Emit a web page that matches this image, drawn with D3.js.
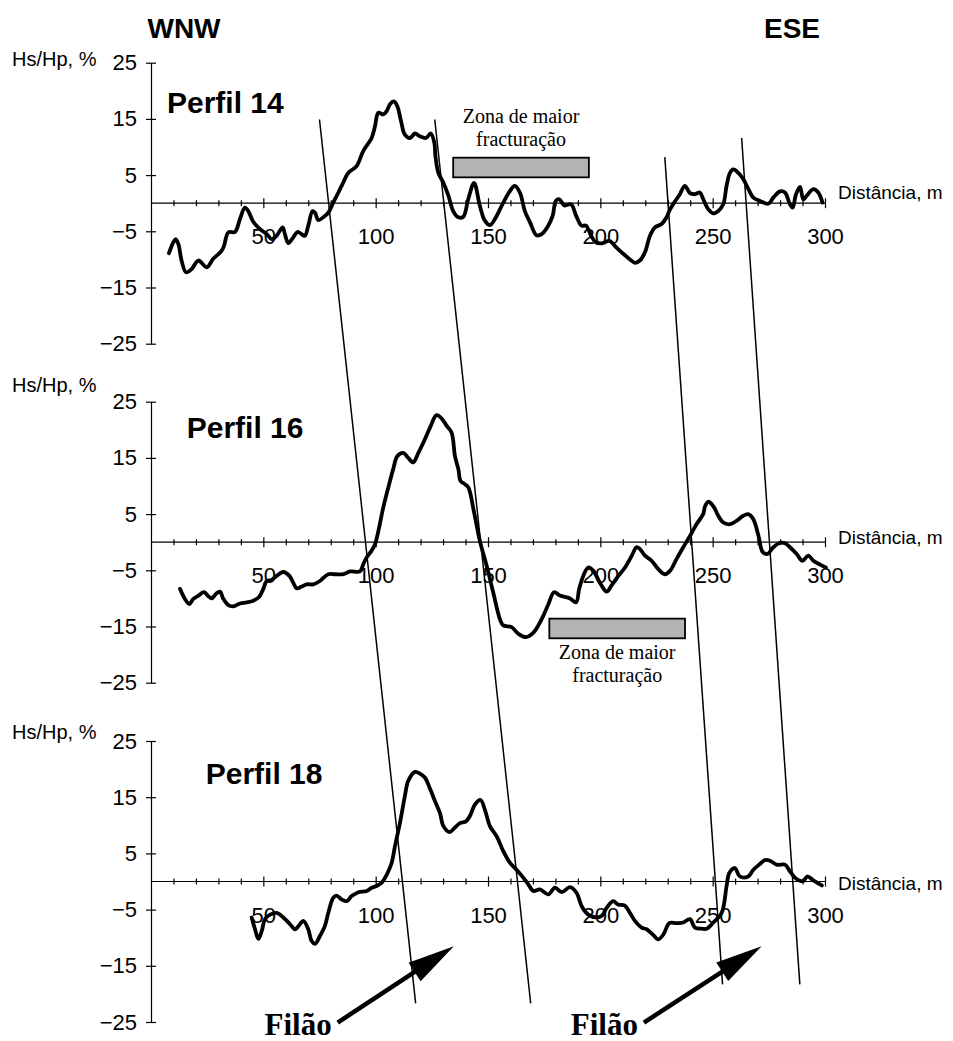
<!DOCTYPE html>
<html><head><meta charset="utf-8">
<script src="https://cdn.jsdelivr.net/npm/d3@7"></script>
<style>html,body{margin:0;padding:0;background:#fff;}svg{display:block;}</style>
</head><body>
<div id="chart"></div>
<script>
// ---------- DATA ----------
const profileNames = ["Perfil 14", "Perfil 16", "Perfil 18"];
const xTickValues = [50, 100, 150, 200, 250, 300];
const yTickValues = [25, 15, 5, -5, -15, -25];
const yAxisLabel = "Hs/Hp, %";
const xAxisLabel = "Distância, m";

const dist14 = [8.0, 9.9, 11, 12.2, 13.6, 15.6, 18.1, 21.1, 24.8, 27.7, 31.4, 32.5, 34.4, 37.4, 39.6, 41.8, 43.3, 45.5, 48.5, 51.5, 53.7, 55.9, 58.6, 59.6, 61.1, 63.3, 65.3, 67, 68.5, 70, 71.9, 73, 74.5, 76.7, 78.9, 81.1, 83.4, 85.6, 87.8, 91.5, 94.5, 98.2, 99.7, 101.2, 103.4, 104.9, 106.4, 108.1, 109.6, 111.3, 113, 115.3, 117.5, 119.7, 122.4, 124.5, 126.1, 126.6, 127.9, 130.1, 132.4, 134.5, 136.8, 139, 141.2, 143.8, 146.4, 148.6, 150.9, 153.1, 156.8, 159.8, 161.9, 164.2, 166.4, 168.7, 171.6, 173.9, 176.8, 178.8, 180.2, 181.7, 184.0, 187, 189.2, 191.6, 193.6, 195.9, 198.1, 201.1, 204, 207.2, 210.2, 213.2, 215.4, 217.6, 219.9, 222.1, 224.3, 227.3, 229.5, 231, 233.2, 235.4, 237.6, 239.9, 242.1, 244.3, 245.8, 248.1, 250.3, 252.5, 254.7, 256.2, 257.7, 259.2, 261.4, 263.6, 265.9, 268.1, 271.1, 274.8, 277, 280, 282.2, 284.4, 285.6, 287.1, 288.9, 290.3, 291.8, 294.8, 297, 298.9];
const hs14 = [-8.9, -7.0, -6.4, -7.3, -10.2, -12.3, -11.7, -10.2, -11.4, -9.9, -8.5, -7.6, -5.2, -5.1, -2.8, -0.8, -1.4, -3.3, -4.6, -5.5, -6.4, -5.8, -4.3, -5.5, -7.1, -6.1, -5.1, -5.5, -5.8, -4.0, -1.4, -1.7, -3.0, -2.5, -1.7, 0.1, 1.9, 3.7, 5.4, 6.6, 9.3, 11.6, 13.7, 16.1, 15.8, 16.4, 17.6, 18.1, 17.3, 14.6, 12.2, 11.6, 12.4, 11.9, 11.6, 12.4, 10.8, 8.4, 5.4, 3.7, 1.3, -1.4, -2.5, -2.4, 0.7, 3.6, -0.5, -3.1, -3.9, -2.8, 0.1, 2.2, 3.1, 1.9, -1.4, -3.4, -5.7, -5.5, -4.0, -2.2, 0.4, 0.7, -0.4, -0.2, -2.2, -4.0, -4.0, -5.8, -7.0, -7.1, -6.7, -7.9, -9.0, -10.0, -10.6, -10.2, -8.7, -5.8, -4.3, -3.7, -2.5, -1.1, 0.3, 1.6, 3.1, 1.8, 1.6, 1.9, 0.7, -1.1, -1.8, -1.4, -0.2, 3.1, 5.4, 6.0, 5.4, 4.3, 2.5, 1.0, 0.4, -0.1, 1.0, 2.1, 1.9, -0.2, -0.8, 1.6, 2.9, 0.7, 1.3, 2.5, 1.9, 0.1];

const dist16 = [12.9, 15.1, 17.1, 18.8, 21.1, 23.6, 25.5, 27, 28.9, 30.7, 32.2, 34.4, 36.6, 39.6, 42.6, 45.5, 48.2, 50, 51.5, 53.7, 55.9, 58.9, 61.6, 63.3, 64.8, 67.1, 69.3, 72.2, 75.2, 78.9, 81.9, 85.6, 88.6, 93, 94.5, 96, 98.2, 99.7, 101.2, 103.4, 105.6, 107.8, 109.6, 112.3, 114.5, 116.7, 119, 121.2, 124.2, 127.1, 129.4, 131.6, 133.8, 135.3, 136.8, 137.8, 139.8, 141.3, 143.8, 146.4, 149.4, 152.3, 155.3, 156.8, 160.5, 163.5, 166.9, 170.2, 172.4, 174.6, 176.9, 179.4, 182, 186.5, 189.2, 190.6, 192.4, 194.6, 196.9, 199.8, 202.8, 205, 208, 211, 214, 216.1, 217.6, 219.9, 222.8, 225.8, 228.7, 231, 233.9, 236.9, 239.9, 242.8, 245.8, 246.6, 248.1, 250.3, 252.5, 254.7, 257.7, 260.6, 263.6, 265.8, 268.1, 270.4, 272.2, 274.3, 277, 280, 282.2, 284.4, 287.4, 289.9, 292.6, 294.8, 297.8, 300.4];
const hs16 = [-8.3, -10.1, -11.0, -10.1, -9.5, -8.9, -9.6, -10.0, -9.2, -8.8, -10.1, -11.2, -11.4, -10.9, -10.7, -10.4, -9.7, -8.3, -6.9, -6.7, -6.0, -5.3, -6.0, -7.2, -8.2, -7.9, -7.5, -7.5, -6.9, -5.7, -5.7, -5.7, -5.2, -5.2, -3.9, -2.7, -1.5, -0.4, 2.0, 6.2, 9.7, 13.0, 15.3, 15.9, 15.0, 14.2, 15.9, 17.7, 20.4, 22.6, 22.0, 20.7, 19.5, 15.3, 13.0, 10.9, 10.3, 9.7, 5.3, 0.2, -4.2, -8.9, -13.7, -14.8, -15.1, -16.3, -16.9, -16.1, -14.8, -13.1, -11.0, -8.9, -9.5, -10.0, -10.7, -8.3, -6.0, -4.5, -5.1, -7.2, -8.8, -7.7, -6.0, -4.5, -2.4, -0.9, -1.2, -2.4, -3.3, -4.8, -5.7, -5.1, -3.0, -0.9, 1.1, 3.2, 5.0, 6.4, 7.2, 6.4, 4.7, 3.5, 3.2, 3.8, 4.7, 5.0, 4.1, 1.1, -1.7, -2.1, -0.9, -0.1, -0.2, -0.9, -2.1, -3.3, -2.4, -3.3, -4.0, -4.5];

const dist18 = [44.8, 46.3, 47.8, 49.3, 50.7, 53, 55.9, 58.9, 61.9, 64.1, 66.3, 67.8, 70, 71.5, 73, 75.2, 77.4, 78.9, 81.1, 82.6, 84.9, 87.1, 89.3, 92.3, 96, 98.2, 100.4, 102.7, 104.9, 107.1, 108.6, 110.8, 113, 114.5, 117.5, 119.7, 121.9, 124.3, 126.4, 128.6, 130.1, 132.8, 135.3, 137.5, 140.2, 142, 144.2, 146.7, 148.6, 150.9, 153.9, 156.8, 159.8, 162.7, 165.7, 167.9, 170.2, 173.1, 176.8, 179.8, 182.8, 186.5, 189.4, 191.7, 194.6, 198.3, 200.7, 202.8, 205.7, 207.9, 210.9, 213.2, 215.4, 218.4, 220.6, 223.3, 225.8, 228.1, 230.7, 234, 236.9, 239.9, 242.1, 245.1, 247.3, 250.3, 254, 256.2, 257.4, 259.9, 262.1, 265.8, 268.1, 271, 273.2, 275.5, 278.5, 282.2, 284.4, 286.6, 289, 290.4, 292.2, 294.8, 298.6];
const hs18 = [-6.4, -8.5, -10.2, -8.8, -6.7, -5.9, -5.6, -6.4, -7.6, -8.5, -7.6, -7.0, -8.5, -10.6, -11.1, -9.7, -7.9, -5.6, -2.9, -2.5, -3.2, -3.5, -2.6, -1.9, -1.7, -1.1, -0.8, -0.2, 1.2, 3.3, 6.3, 10.4, 15.2, 17.9, 19.5, 19.2, 18.5, 16.4, 14.3, 12.2, 9.9, 8.8, 9.6, 10.4, 10.7, 11.7, 13.7, 14.5, 12.8, 9.8, 8.0, 5.4, 3.3, 2.1, 0.7, -0.5, -1.7, -1.4, -2.3, -1.1, -1.9, -1.0, -2.0, -4.4, -5.9, -6.4, -6.1, -4.7, -3.5, -4.1, -4.3, -5.6, -7.0, -8.2, -8.5, -9.4, -10.3, -9.4, -7.4, -7.4, -7.3, -6.7, -8.2, -8.4, -8.4, -7.3, -5.6, -0.8, 1.5, 2.4, 0.9, 0.9, 2.1, 3.1, 3.8, 3.7, 3.0, 3.0, 1.8, 0.7, 0.1, 0.1, 0.9, 0.2, -0.7];

// fracture zones: [panel index, start distance, end distance, low value, high value]
const zonePanels = [0, 1];
const zoneStart = [134.5, 177.3];
const zoneEnd = [194.9, 237.7];
const zoneLow = [4.6, -17.1];
const zoneHigh = [8.1, -13.6];
const zoneText = ["Zona de maior", "fracturação"];

// vein (filão) lines: top end in Perfil 14, bottom end in Perfil 18
const veinTopDist = [75, 126.3, 228.7, 262.9];
const veinTopVal = [14.9, 14.9, 8.2, 11.6];
const veinBotDist = [117.8, 169, 254.4, 288.8];
const veinBotVal = [-21.7, -21.7, -18.3, -18.3];

// arrows in Perfil 18 coordinates
const arrowTailDist = [83.1, 219.4];
const arrowTipDist = [134.8, 271.8];
const arrowTailVal = -25.1;
const arrowTipVal = -11.5;
const arrowText = "Filão";

// ---------- LAYOUT ----------
const W = 953, H = 1041;
const svg = d3.select("#chart").append("svg").attr("width", W).attr("height", H)
  .style("background", "#fff");
const SANS = "'Liberation Sans', Arial, sans-serif";
const SERIF = "'Liberation Serif', 'Times New Roman', serif";

const x = d3.scaleLinear().domain([0, 300]).range([151, 825]);
const panelTops = [62.7, 401.7, 741];
const panelH = 281;
const ys = panelTops.map(t => d3.scaleLinear().domain([-25, 25]).range([t + panelH, t]));

const series = [
  {dist: dist14, hs: hs14},
  {dist: dist16, hs: hs16},
  {dist: dist18, hs: hs18}
];
const perfilPos = [{x: 167, dy: 50}, {x: 186.7, dy: 36.3}, {x: 205.7, dy: 43}];
const hsLabelDy = [3.3, -10, -1.7];
const distLabelDy = [-4.3, 1.8, 8.8];

// title words
svg.append("text").attr("x", 184).attr("y", 38).attr("text-anchor", "middle")
  .style("font-family", SANS).style("font-weight", "bold").style("font-size", "28px").text("WNW");
svg.append("text").attr("x", 792).attr("y", 38).attr("text-anchor", "middle")
  .style("font-family", SANS).style("font-weight", "bold").style("font-size", "28px").text("ESE");

const minorTicks = d3.range(10, 301, 10);

series.forEach((s, i) => {
  const y = ys[i];
  const g = svg.append("g");
  const y0 = y(0);

  // y axis
  const yAxis = d3.axisLeft(y).tickValues(yTickValues).tickSizeInner(5).tickSizeOuter(0).tickPadding(9);
  const gy = g.append("g").attr("transform", `translate(${x(0)},0)`).call(yAxis);
  gy.select(".domain").attr("stroke", "#000").attr("stroke-width", 1.2);
  gy.selectAll(".tick line").attr("x1", 5).attr("x2", -5).attr("stroke", "#000").attr("stroke-width", 1.2);
  gy.selectAll(".tick text").style("font-family", SANS).style("font-size", "22px").attr("fill", "#000");

  // x axis
  const xAxis = d3.axisBottom(x).tickValues(minorTicks).tickSizeOuter(0)
    .tickFormat(d => xTickValues.includes(d) ? d : "");
  const gx = g.append("g").attr("transform", `translate(0,${y0})`).call(xAxis);
  gx.select(".domain").attr("stroke", "#000").attr("stroke-width", 1.2).attr("d", `M${x(0)},0H${x(300)}`);
  gx.selectAll(".tick line")
    .attr("y1", d => xTickValues.includes(d) ? -5 : -3)
    .attr("y2", d => xTickValues.includes(d) ? 5 : 3)
    .attr("stroke", "#000").attr("stroke-width", 1.2);
  gx.selectAll(".tick text").attr("y", 41).attr("dy", 0)
    .style("font-family", SANS).style("font-size", "22px").attr("fill", "#000");

  // axis labels
  g.append("text").attr("x", 12).attr("y", panelTops[i] + hsLabelDy[i])
    .style("font-family", SANS).style("font-size", "20px").text(yAxisLabel);
  g.append("text").attr("x", 838).attr("y", y0 + distLabelDy[i])
    .style("font-family", SANS).style("font-size", "19px").text(xAxisLabel);

  // profile label
  g.append("text").attr("x", perfilPos[i].x).attr("y", panelTops[i] + perfilPos[i].dy)
    .style("font-family", SANS).style("font-weight", "bold").style("font-size", "30px")
    .text(profileNames[i]);
});

// fracture zones
zonePanels.forEach((p, k) => {
  const y = ys[p];
  const x1 = x(zoneStart[k]), x2 = x(zoneEnd[k]);
  const yt = y(zoneHigh[k]), yb = y(zoneLow[k]);
  svg.append("rect").attr("x", x1).attr("y", yt).attr("width", x2 - x1).attr("height", yb - yt)
    .attr("fill", "#b3b3b3").attr("stroke", "#000").attr("stroke-width", 1.8);
  const cx = (x1 + x2) / 2;
  const base = p === 0 ? [yt - 35, yt - 12] : [yb + 21, yb + 44];
  zoneText.forEach((t, j) => {
    svg.append("text").attr("x", cx).attr("y", base[j]).attr("text-anchor", "middle")
      .style("font-family", SERIF).style("font-size", "20px").text(t);
  });
});

// profile curves
const line = d3.line().x(d => x(d[0])).curve(d3.curveCatmullRom.alpha(0.5));
series.forEach((s, i) => {
  const pts = s.dist.map((d, j) => [d, s.hs[j]]);
  svg.append("path").attr("d", line.y(d => ys[i](d[1]))(pts))
    .attr("fill", "none").attr("stroke", "#000").attr("stroke-width", 3.8)
    .attr("stroke-linejoin", "round").attr("stroke-linecap", "round");
});

// vein lines
veinTopDist.forEach((d, k) => {
  svg.append("line")
    .attr("x1", x(d)).attr("y1", ys[0](veinTopVal[k]))
    .attr("x2", x(veinBotDist[k])).attr("y2", ys[2](veinBotVal[k]))
    .attr("stroke", "#000").attr("stroke-width", 1.5);
});

// arrows
arrowTailDist.forEach((d, k) => {
  const y = ys[2];
  const tx = x(d), ty = y(arrowTailVal);
  const hx = x(arrowTipDist[k]), hy = y(arrowTipVal);
  const ang = Math.atan2(hy - ty, hx - tx);
  const headLen = 47, headHalf = 11;
  const bx = hx - headLen * Math.cos(ang), by = hy - headLen * Math.sin(ang);
  const nx = -Math.sin(ang), ny = Math.cos(ang);
  svg.append("line").attr("x1", tx).attr("y1", ty).attr("x2", bx + 2 * Math.cos(ang)).attr("y2", by + 2 * Math.sin(ang))
    .attr("stroke", "#000").attr("stroke-width", 4.5);
  svg.append("path")
    .attr("d", `M${hx},${hy}L${bx + nx * headHalf},${by + ny * headHalf}L${bx - nx * headHalf},${by - ny * headHalf}Z`)
    .attr("fill", "#000");
  svg.append("text").attr("x", tx - 6).attr("y", 1035).attr("text-anchor", "end")
    .style("font-family", SERIF).style("font-weight", "bold").style("font-size", "31px").text(arrowText);
});
</script>
</body></html>
